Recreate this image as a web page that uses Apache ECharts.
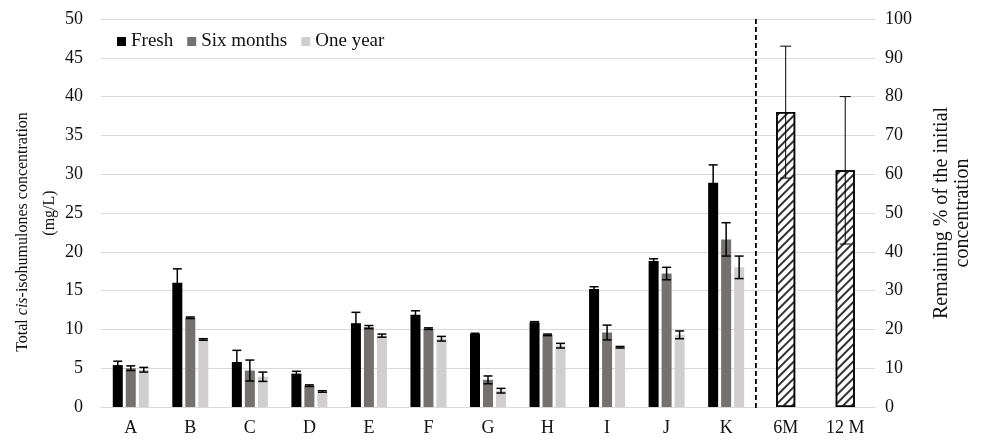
<!DOCTYPE html>
<html>
<head>
<meta charset="utf-8">
<script src="https://cdn.jsdelivr.net/npm/echarts@6/dist/echarts.min.js"></script>
<style>
html, body { margin: 0; padding: 0; background: #fff; }
#chart { width: 982px; height: 444px; }
</style>
</head>
<body>
<div id="chart"></div>
<script>
// samples A..K, then the two storage summaries on the right axis
var categories = ['A', 'B', 'C', 'D', 'E', 'F', 'G', 'H', 'I', 'J', 'K'];
var storageLabels = ['6M', '12 M'];
var xLabels = categories.concat(storageLabels);

var fresh = [5.4, 16.0, 5.8, 4.3, 10.8, 11.9, 9.4, 10.9, 15.2, 18.8, 28.9];
var freshErr = [0.5, 1.8, 1.5, 0.3, 1.4, 0.5, 0.1, 0.1, 0.3, 0.3, 2.3];
var sixMonths = [5.0, 11.5, 4.7, 2.75, 10.3, 10.1, 3.5, 9.3, 9.6, 17.2, 21.6];
var sixMonthsErr = [0.3, 0.1, 1.35, 0.1, 0.2, 0.1, 0.5, 0.1, 0.95, 0.8, 2.15];
var oneYear = [4.8, 8.7, 3.9, 2.0, 9.2, 8.8, 2.1, 7.9, 7.7, 9.3, 18.0];
var oneYearErr = [0.3, 0.1, 0.6, 0.1, 0.2, 0.3, 0.3, 0.3, 0.1, 0.5, 1.45];

var remaining = [76, 61];      // % of initial concentration
var remainingErr = [17, 19];

var leftTicks = { min: 0, max: 50, interval: 5 };
var rightTicks = { min: 0, max: 100, interval: 10 };

var FONT = '"Liberation Serif", "Times New Roman", serif';
var GRID_COLOR = '#d9d9d9';

// bar series data, padded so the right-hand categories stay empty
function pad(arr, n) {
    var out = arr.slice();
    while (out.length < n) out.push('-');
    return out;
}
function errData(vals, errs, start) {
    return vals.map(function (v, i) { return [start + i, v, errs[i]]; });
}
function errSeries(data, offset, capW, lw, xi, yi) {
    return {
        type: 'custom',
        xAxisIndex: xi,
        yAxisIndex: yi,
        data: data,
        z: 5,
        silent: true,
        renderItem: function (params, api) {
            var idx = api.value(0), v = api.value(1), e = api.value(2);
            var top = api.coord([idx, v + e]);
            var bot = api.coord([idx, v - e]);
            var x = top[0] + offset;
            var s = { stroke: '#000', lineWidth: lw };
            return {
                type: 'group',
                children: [
                    { type: 'line', shape: { x1: x, y1: top[1], x2: x, y2: bot[1] }, style: s },
                    { type: 'line', shape: { x1: x - capW / 2, y1: top[1], x2: x + capW / 2, y2: top[1] }, style: s },
                    { type: 'line', shape: { x1: x - capW / 2, y1: bot[1], x2: x + capW / 2, y2: bot[1] }, style: s }
                ]
            };
        }
    };
}

var n = xLabels.length;
var chart = echarts.init(document.getElementById('chart'));

var option = {
    animation: false,
    textStyle: { fontFamily: FONT },
    grid: { left: 101, right: 107, top: 19, bottom: 37, outerBoundsMode: 'none', containLabel: false },
    legend: {
        data: ['Fresh', 'Six months', 'One year'],
        left: 112,
        top: 27,
        icon: 'rect',
        itemWidth: 9,
        itemHeight: 9,
        itemGap: 14,
        textStyle: { fontFamily: FONT, fontSize: 19, color: '#111' }
    },
    xAxis: [
        {
            type: 'category',
            data: xLabels,
            axisTick: { show: false },
            axisLine: { lineStyle: { color: GRID_COLOR, width: 1 } },
            axisLabel: { fontFamily: FONT, fontSize: 18, color: '#111', margin: 12 }
        },
        { type: 'category', data: xLabels, show: false }
    ],
    yAxis: [
        {
            type: 'value',
            min: leftTicks.min, max: leftTicks.max, interval: leftTicks.interval,
            axisLine: { show: false },
            axisTick: { show: false },
            splitLine: { lineStyle: { color: GRID_COLOR, width: 1 } },
            axisLabel: { fontFamily: FONT, fontSize: 18, color: '#111', margin: 18 },
            name: '{n|Total }{i|cis}{n|-isohumulones concentration}{s|}\n{n|(mg/L)}',
            nameLocation: 'middle',
            nameRotate: 90,
            nameGap: 38,
            nameMoveOverlap: false,
            nameTextStyle: {
                fontFamily: FONT,
                lineHeight: 27,
                rich: {
                    n: { fontFamily: FONT, fontSize: 16, color: '#111', lineHeight: 27 },
                    i: { fontFamily: FONT, fontSize: 16, color: '#111', fontStyle: 'italic', lineHeight: 27 },
                    s: { width: 38, lineHeight: 27 }
                }
            }
        },
        {
            type: 'value',
            position: 'right',
            min: rightTicks.min, max: rightTicks.max, interval: rightTicks.interval,
            axisLine: { show: false },
            axisTick: { show: false },
            splitLine: { show: false },
            axisLabel: { fontFamily: FONT, fontSize: 18, color: '#111', margin: 10 },
            name: 'Remaining % of the initial\nconcentration',
            nameLocation: 'middle',
            nameRotate: 90,
            nameGap: 56,
            nameMoveOverlap: false,
            nameTextStyle: { fontFamily: FONT, fontSize: 20, color: '#111', lineHeight: 21 }
        }
    ],
    series: [
        { name: 'Fresh', type: 'bar', data: pad(fresh, n), barWidth: 10, barGap: '30%', itemStyle: { color: '#000000' } },
        { name: 'Six months', type: 'bar', data: pad(sixMonths, n), barWidth: 10, barGap: '30%', itemStyle: { color: '#767171' } },
        { name: 'One year', type: 'bar', data: pad(oneYear, n), barWidth: 10, barGap: '30%', itemStyle: { color: '#d0cece' } },
        {
            name: 'Remaining',
            type: 'bar',
            xAxisIndex: 1,
            yAxisIndex: 1,
            barWidth: 19,
            data: Array(categories.length).fill('-').concat(remaining),
            itemStyle: {
                color: '#ffffff',
                borderColor: '#000',
                borderWidth: 1.5,
                decal: {
                    symbol: 'rect',
                    symbolSize: 1,
                    color: '#333',
                    dashArrayX: [1, 0],
                    dashArrayY: [2, 4],
                    rotation: -Math.PI / 4
                }
            }
        },
        errSeries(errData(fresh, freshErr, 0), -13, 9, 1.5, 0, 0),
        errSeries(errData(sixMonths, sixMonthsErr, 0), 0, 9, 1.5, 0, 0),
        errSeries(errData(oneYear, oneYearErr, 0), 13, 9, 1.5, 0, 0),
        errSeries(errData(remaining, remainingErr, categories.length), 0, 11, 1, 1, 1),
        {
            // dashed divider between the samples and the storage summary
            type: 'custom',
            silent: true,
            data: [[categories.length - 1, 0]],
            z: 6,
            renderItem: function (params, api) {
                var c = api.coord([api.value(0), 0]);
                var x = c[0] + api.size([1, 0])[0] / 2;
                var cs = params.coordSys;
                return {
                    type: 'line',
                    shape: { x1: x, y1: cs.y, x2: x, y2: cs.y + cs.height + 3 },
                    style: { stroke: '#000', lineWidth: 1.8, lineDash: [5, 3] }
                };
            }
        }
    ]
};
chart.setOption(option);
</script>
</body>
</html>
